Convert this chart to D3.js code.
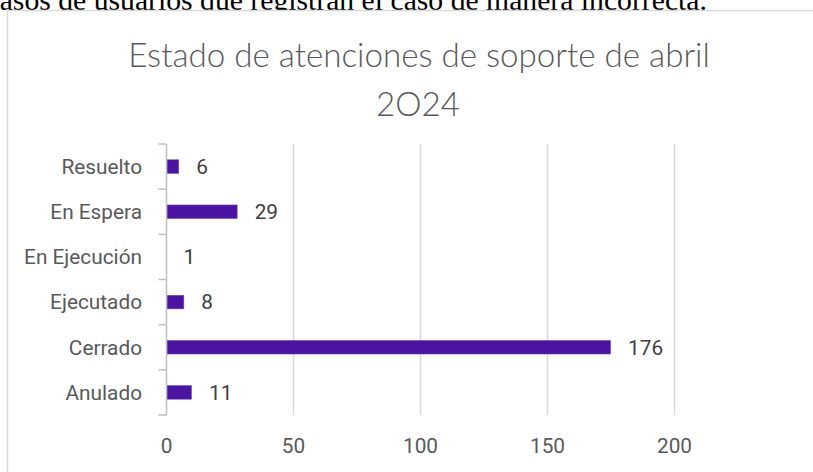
<!DOCTYPE html>
<html>
<head>
<meta charset="utf-8">
<script src="https://cdn.jsdelivr.net/npm/d3@7"></script>
<style>
  html, body { margin: 0; padding: 0; background: #ffffff; }
  svg { display: block; }
</style>
</head>
<body>
<svg id="chart" width="813" height="472"></svg>
<script>
const categories = ["Resuelto", "En Espera", "En Ejecución", "Ejecutado", "Cerrado", "Anulado"];
const values = [6, 29, 1, 8, 176, 11];
const xTicks = [0, 50, 100, 150, 200];
const titleLines = ["Estado de atenciones de soporte de abril", "2O24"];
const docText = "casos de usuarios que registran el caso de manera incorrecta.";

const svg = d3.select("#chart");

// document text above the chart (cut at top)
svg.append("text")
  .attr("x", -13.5).attr("y", 9.5)
  .attr("font-family", "'Liberation Serif', 'Times New Roman', serif")
  .attr("font-size", 29.7)
  .attr("fill", "#000")
  .text(docText);

// chart area
svg.append("rect")
  .attr("x", 7.5).attr("y", 10.5)
  .attr("width", 900).attr("height", 600)
  .attr("fill", "#fff").attr("stroke", "#d9d9d9").attr("stroke-width", 1.5);

// title
const titleG = svg.append("g");
const t1 = titleG.append("text")
  .attr("x", 419).attr("y", 66.5)
  .attr("text-anchor", "middle")
  .attr("font-family", "Lato, 'Open Sans', sans-serif")
  .attr("font-weight", 300)
  .attr("font-size", 32)
  .attr("fill", "#595959")
  .text(titleLines[0]);
const w1 = t1.node().getComputedTextLength();
const fs = 32 * 582 / w1;
t1.attr("font-size", fs);
titleG.append("text")
  .attr("x", 418).attr("y", 116)
  .attr("text-anchor", "middle")
  .attr("font-family", "Lato, 'Open Sans', sans-serif")
  .attr("font-weight", 300)
  .attr("font-size", fs)
  .attr("fill", "#595959")
  .text(titleLines[1]);

const plot = { left: 166.5, right: 674.5, top: 144, bottom: 415 };
const labelFont = "Roboto, 'Noto Sans', sans-serif";
const labelSize = 20.8;

const x = d3.scaleLinear().domain([0, 200]).range([plot.left, plot.right]);
const y = d3.scaleBand().domain(categories).range([plot.top, plot.bottom]).paddingInner(0.7).paddingOuter(0.35);
const yb = d3.scaleBand().domain(categories).range([plot.top, plot.bottom]);

// gridlines
svg.append("g").selectAll("line")
  .data(xTicks.filter(d => d > 0))
  .join("line")
  .attr("x1", d => x(d)).attr("x2", d => x(d))
  .attr("y1", plot.top).attr("y2", plot.bottom)
  .attr("stroke", "#d9d9d9").attr("stroke-width", 1.5);

// bars
svg.append("g").selectAll("rect")
  .data(categories)
  .join("rect")
  .attr("x", x(0) + 0.5)
  .attr("y", d => y(d))
  .attr("width", (d, i) => Math.max(0, x(values[i]) - x(0) - 3.5))
  .attr("height", y.bandwidth())
  .attr("fill", "#4a14a0")
  .attr("stroke", "#7048b8").attr("stroke-width", 0.6);

// y axis line and ticks
const yAxisG = svg.append("g");
yAxisG.append("line")
  .attr("x1", plot.left).attr("x2", plot.left)
  .attr("y1", plot.top).attr("y2", plot.bottom)
  .attr("stroke", "#bfbfbf").attr("stroke-width", 1.5);
const boundaries = categories.map(c => yb(c)).concat([plot.bottom]);
yAxisG.selectAll("line.tk")
  .data(boundaries)
  .join("line").attr("class", "tk")
  .attr("x1", plot.left - 8).attr("x2", plot.left)
  .attr("y1", d => d).attr("y2", d => d)
  .attr("stroke", "#bfbfbf").attr("stroke-width", 1.5);

// category labels
svg.append("g").selectAll("text")
  .data(categories)
  .join("text")
  .attr("x", 142)
  .attr("y", d => yb(d) + yb.bandwidth() / 2)
  .attr("dy", "0.35em")
  .attr("text-anchor", "end")
  .attr("font-family", labelFont)
  .attr("font-size", labelSize)
  .attr("fill", "#595959")
  .text(d => d);

// value labels
svg.append("g").selectAll("text")
  .data(categories)
  .join("text")
  .attr("x", (d, i) => x(values[i]) + 14.5)
  .attr("y", d => yb(d) + yb.bandwidth() / 2)
  .attr("dy", "0.35em")
  .attr("font-family", labelFont)
  .attr("font-size", labelSize)
  .attr("fill", "#404040")
  .text((d, i) => values[i]);

// x axis tick labels
svg.append("g").selectAll("text")
  .data(xTicks)
  .join("text")
  .attr("x", d => x(d))
  .attr("y", 446)
  .attr("dy", "0.35em")
  .attr("text-anchor", "middle")
  .attr("font-family", labelFont)
  .attr("font-size", labelSize)
  .attr("fill", "#595959")
  .text(d => d);
</script>
</body>
</html>
